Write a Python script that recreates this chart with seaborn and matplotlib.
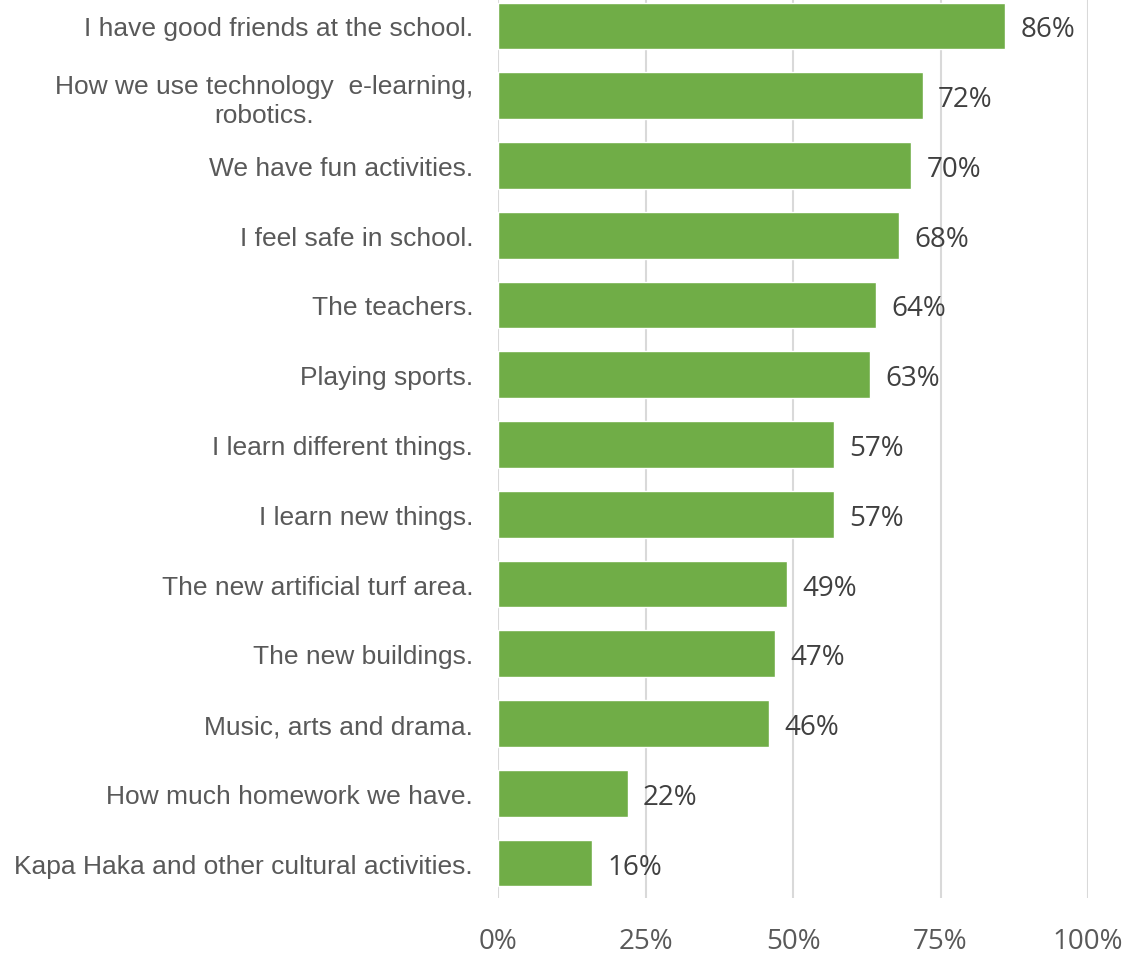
import matplotlib
matplotlib.use("Agg")
import matplotlib.pyplot as plt
import seaborn as sns
import pandas as pd

# Survey responses: what students like about the school
categories = [
    "I have good friends at the school.",
    "How we use technology  e-learning,\nrobotics.",
    "We have fun activities.",
    "I feel safe in school.",
    "The teachers.",
    "Playing sports.",
    "I learn different things.",
    "I learn new things.",
    "The new artificial turf area.",
    "The new buildings.",
    "Music, arts and drama.",
    "How much homework we have.",
    "Kapa Haka and other cultural activities.",
]
shares = [86, 72, 70, 68, 64, 63, 57, 57, 49, 47, 46, 22, 16]
x_ticks = [0, 25, 50, 75, 100]
x_tick_labels = ["0%", "25%", "50%", "75%", "100%"]
value_labels = [f"{v}%" for v in shares]

BAR_GREEN = "#70AD47"
TEXT_GREY = "#595959"
VALUE_GREY = "#404040"
GRID_GREY = "#D9D9D9"

sns.set_theme(style="white")

W, H = 1127, 954
fig = plt.figure(figsize=(W / 100, H / 100), dpi=100)
ax = fig.add_axes([498 / W, 1 - 899 / H, 590 / W, 907 / H])

df = pd.DataFrame({"item": categories, "share": shares})
sns.barplot(data=df, x="share", y="item", orient="h", color=BAR_GREEN,
            saturation=1, width=0.67, ax=ax)

ax.set_xlim(0, 100)
ax.set_ylim(len(categories) - 0.5, -0.5)
ax.set_xticks(x_ticks, x_tick_labels)
ax.grid(axis="x", color=GRID_GREY, linewidth=1.5)
ax.grid(axis="y", visible=False)
ax.set_axisbelow(True)
for spine in ax.spines.values():
    spine.set_visible(False)
ax.set_xlabel("")
ax.set_ylabel("")

ax.tick_params(axis="x", length=0, pad=21, labelsize=20, labelcolor=TEXT_GREY)
for lbl in ax.get_xticklabels():
    lbl.set_fontfamily("Open Sans")

ax.tick_params(axis="y", length=0, pad=18, labelsize=19, labelcolor=TEXT_GREY)
for lbl in ax.get_yticklabels():
    lbl.set_fontfamily("Liberation Sans")
    lbl.set_multialignment("center")
    lbl.set_linespacing(1.25)

value_texts = ax.bar_label(ax.containers[0], labels=value_labels, padding=11,
                           fontsize=20, color=VALUE_GREY, fontfamily="Open Sans")
for t in value_texts:
    t.set_verticalalignment("center_baseline")

fig.savefig("out.png", dpi=100)
